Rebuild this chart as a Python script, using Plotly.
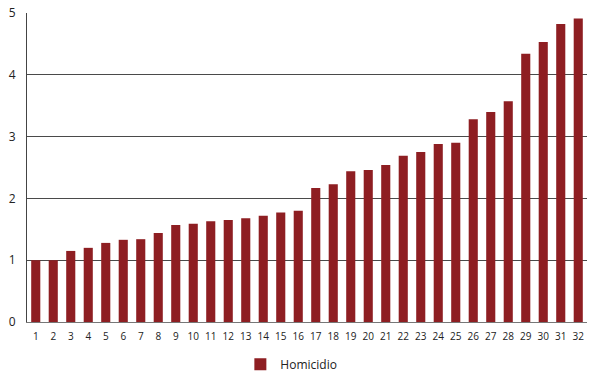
import plotly.graph_objects as go

categories = [str(i) for i in range(1, 33)]
homicidio = [1.0, 1.0, 1.15, 1.2, 1.28, 1.33, 1.34, 1.44, 1.57, 1.59,
             1.63, 1.65, 1.68, 1.72, 1.77, 1.8, 2.17, 2.23, 2.44, 2.46,
             2.54, 2.69, 2.75, 2.88, 2.9, 3.28, 3.4, 3.57, 4.34, 4.53,
             4.82, 4.91]
y_ticks = [0, 1, 2, 3, 4, 5]

fig = go.Figure()
fig.add_trace(go.Bar(
    x=categories, y=homicidio, name="Homicidio",
    marker=dict(color="#8e1e22", line=dict(width=0)),
    width=0.52, showlegend=True,
))

fig.update_layout(
    width=600, height=384,
    margin=dict(l=27, r=13, t=13, b=62, autoexpand=False),
    paper_bgcolor="white", plot_bgcolor="white",
    font=dict(family="Open Sans, DejaVu Sans, sans-serif", size=11, color="#222222"),
    showlegend=True,
    legend=dict(orientation="h", x=0.381, xanchor="left", y=-0.09, yanchor="top",
                font=dict(size=12, color="#222222"), itemwidth=30),
    bargap=0.48,
)
fig.update_xaxes(type="category", showgrid=False, showline=True, linecolor="#777777",
                 linewidth=1, ticks="", tickfont=dict(size=10), ticklabelstandoff=5)
fig.update_yaxes(range=[0, 5], tickvals=y_ticks, showgrid=True, gridcolor="#4a4a4a",
                 gridwidth=1, showline=True, linecolor="#444444", linewidth=1,
                 ticks="", zeroline=False, tickfont=dict(size=12), ticklabelstandoff=8)

fig.write_html("out.html", post_script="document.body.style.margin='0';",
               config={"displayModeBar": False})
